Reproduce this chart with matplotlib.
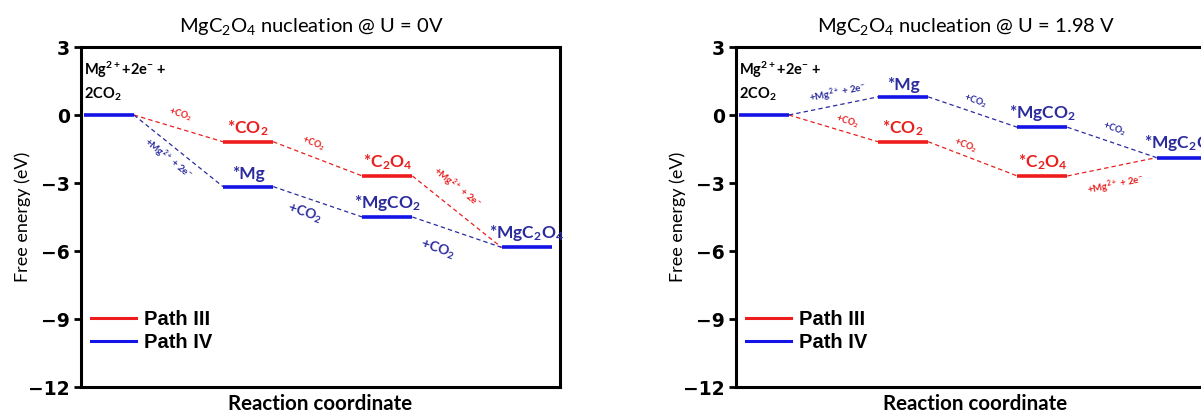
import numpy as np
import matplotlib
matplotlib.use('Agg')
import matplotlib.pyplot as plt
from matplotlib.lines import Line2D

plt.rcParams['font.family'] = ['Lato', 'DejaVu Sans']
plt.rcParams['mathtext.default'] = 'regular'

# Data: free energies (eV) of the intermediates
states_x = [0, 1, 2, 3]
path3_left = [0.0, -1.18, -2.69, -5.84]
path4_left = [0.0, -3.16, -4.50, -5.84]
path3_right = [0.0, -1.18, -2.69, -1.88]
path4_right = [0.0, 0.80, -0.54, -1.88]

path3_names = ['', '*CO$_2$', '*C$_2$O$_4$', '']
path4_names = ['', '*Mg', '*MgCO$_2$', '*MgC$_2$O$_4$']
start_name = 'Mg$^{2+}$+2e$^{-}$ +\n2CO$_2$'
step_co2 = '+CO$_2$'
step_mg = '+Mg$^{2+}$ + 2e$^{-}$'

titles = ['MgC$_2$O$_4$ nucleation @ U = 0V', 'MgC$_2$O$_4$ nucleation @ U = 1.98 V']
yticks = [-12, -9, -6, -3, 0, 3]

RED = '#ee1c1c'
BLUE = '#1414e6'
RED_T = '#e8201e'
NAVY = '#2b2b9e'
HALF = 0.18

W, H = 1201, 415
fig = plt.figure(figsize=(W / 100, H / 100), dpi=100)


def px_axes(x0, y0, x1, y1):
    return fig.add_axes([x0 / W, 1 - y1 / H, (x1 - x0) / W, (y1 - y0) / H])


def angle(ax, p0, p1):
    a = ax.transData.transform(p0)
    b = ax.transData.transform(p1)
    return np.degrees(np.arctan2(b[1] - a[1], b[0] - a[0]))


def step_label(ax, e, i, text, color, size, off):
    p0 = (states_x[i] + HALF, e[i])
    p1 = (states_x[i + 1] - HALF, e[i + 1])
    mid = ((p0[0] + p1[0]) / 2, (p0[1] + p1[1]) / 2)
    ax.annotate(text, mid, xytext=(off[0] * 0.72, -off[1] * 0.72), textcoords='offset points',
                ha='center', va='center', rotation=angle(ax, p0, p1), color=color,
                fontsize=size, fontweight='bold', rotation_mode='anchor')


def draw_panel(ax, e3, e4, title, labels):
    ax.set_xlim(-0.2, 3.24)
    ax.set_ylim(-12, 3)
    # dashed connectors
    for e, c in [(e3, RED_T), (e4, NAVY)]:
        for i in range(3):
            ax.plot([states_x[i] + HALF, states_x[i + 1] - HALF], [e[i], e[i + 1]],
                    ls=(0, (3.5, 2.5)), lw=0.9, color=c)
    # energy levels
    for i in [1, 2]:
        ax.hlines(e3[i], states_x[i] - HALF, states_x[i] + HALF, color=RED, lw=2.6)
    for i in range(4):
        ax.hlines(e4[i], states_x[i] - HALF, states_x[i] + HALF, color=BLUE, lw=2.6)
    # state names
    for i in range(4):
        if path3_names[i]:
            ax.annotate(path3_names[i], (states_x[i], e3[i]), xytext=(0, 3), textcoords='offset points',
                        ha='center', va='bottom', color=RED_T, fontsize=12.5, fontweight='bold')
        if path4_names[i]:
            ax.annotate(path4_names[i], (states_x[i], e4[i]), xytext=(0, 3), textcoords='offset points',
                        ha='center', va='bottom', color=NAVY, fontsize=12.5, fontweight='bold')
    ax.text(-0.18, 2.45, start_name, ha='left', va='top', fontsize=10.5, fontweight='bold',
            linespacing=1.45)
    # step labels
    for (e, i, text, color, size, off) in labels:
        step_label(ax, e, i, text, color, size, off)

    ax.set_yticks(yticks)
    ax.set_yticklabels([str(t).replace('-', '\u2212') for t in yticks],
                       fontfamily='DejaVu Sans', fontweight='bold', fontsize=13.5)
    ax.set_xticks([])
    ax.tick_params(axis='y', length=5, width=2, pad=3)
    for s in ax.spines.values():
        s.set_linewidth(2.2)
    ax.set_ylabel('Free energy (eV)', fontsize=13, fontweight='normal')
    ax.yaxis.set_label_coords(-0.104, 0.5)
    ax.set_xlabel('Reaction coordinate', fontsize=14.8, fontweight='bold', labelpad=5)
    ax.set_title(title, fontsize=14.5, fontweight='normal', pad=11, x=0.48)
    handles = [Line2D([], [], color=RED, lw=2.2), Line2D([], [], color=BLUE, lw=2.2)]
    ax.legend(handles, ['Path III', 'Path IV'], loc='center left', bbox_to_anchor=(-0.016, 0.165),
              frameon=False, prop={'family': 'Liberation Sans', 'weight': 'bold', 'size': 14.5},
              handlelength=2.2, labelspacing=0.2, handletextpad=0.4)


ax1 = px_axes(81, 47, 560, 387)
ax2 = px_axes(736, 47, 1215, 387)

left_labels = [
    (path3_left, 0, step_co2, RED_T, 6.5, (2, -14)),
    (path3_left, 1, step_co2, RED_T, 6.5, (-4, -15)),
    (path3_left, 2, step_mg, RED_T, 7, (0, -24)),
    (path4_left, 0, step_mg, NAVY, 7, (-11, 8)),
    (path4_left, 1, step_co2, NAVY, 10, (-13, 11)),
    (path4_left, 2, step_co2, NAVY, 10, (-19, 17)),
]
right_labels = [
    (path4_right, 0, step_mg, NAVY, 7, (4, -13)),
    (path3_right, 0, step_co2, RED_T, 6.5, (14, -7)),
    (path4_right, 1, step_co2, NAVY, 6.5, (3, -11)),
    (path3_right, 1, step_co2, RED_T, 6.5, (-7, -13)),
    (path4_right, 2, step_co2, NAVY, 6.5, (2, -13)),
    (path3_right, 2, step_mg, RED_T, 7, (4, 18)),
]

draw_panel(ax1, path3_left, path4_left, titles[0], left_labels)
draw_panel(ax2, path3_right, path4_right, titles[1], right_labels)

fig.savefig('out.png', dpi=100)
